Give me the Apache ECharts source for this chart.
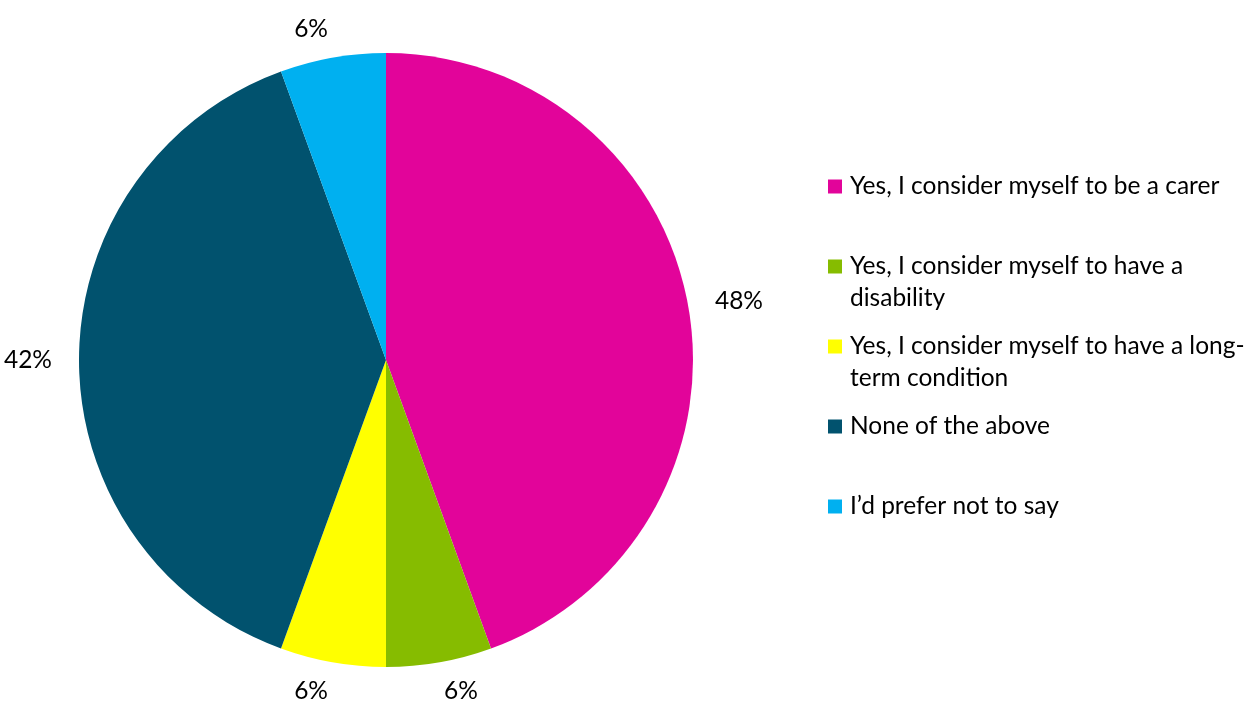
<!DOCTYPE html>
<html>
<head>
<meta charset="utf-8">
<script src="https://cdn.jsdelivr.net/npm/echarts@6/dist/echarts.min.js"></script>
<style>
  html, body { margin: 0; padding: 0; background: #ffffff; }
  #chart { width: 1251px; height: 707px; }
</style>
</head>
<body>
<div id="chart"></div>
<script>
// Survey answers: share of respondents per answer (multiple answers allowed)
const categories = [
  'Yes, I consider myself to be a carer',
  'Yes, I consider myself to have a disability',
  'Yes, I consider myself to have a long-term condition',
  'None of the above',
  'I\u2019d prefer not to say'
];
// Legend text, split onto the lines it wraps to
const legendLines = [
  ['Yes, I consider myself to be a carer', ''],
  ['Yes, I consider myself to have a', 'disability'],
  ['Yes, I consider myself to have a long-', 'term condition'],
  ['None of the above', ''],
  ['I\u2019d prefer not to say', '']
];
const percentValues = [48, 6, 6, 42, 6];
const colors = ['#e2049a', '#86bc00', '#ffff00', '#01526e', '#00b0f0'];

const FONT = 'Lato';
const FS = 24.5;
const CENTER = [386, 360];
const RADIUS = 307;
const GAP_X = 27;
const GAP_Y = 17;

const rich = {
  t: { fontFamily: FONT, fontSize: FS, color: '#000', lineHeight: 32 },
  gap: { width: 8, height: 32 },
  ind: { width: 22, height: 32 }
};
colors.forEach((c, i) => {
  rich['sq' + i] = { width: 14, height: 14, backgroundColor: c };
});

const total = percentValues.reduce((a, b) => a + b, 0);

// Place each value label just outside the rim, along the slice's middle direction
function placeLabel(params) {
  const i = params.dataIndex;
  let before = 0;
  for (let k = 0; k < i; k++) before += percentValues[k];
  const mid = (before + percentValues[i] / 2) / total * Math.PI * 2;
  const ux = Math.sin(mid);
  const uy = -Math.cos(mid);
  const hw = params.labelRect.width / 2;
  const hh = params.labelRect.height / 2;
  const side = Math.max(-1, Math.min(1, ux * 6));
  return {
    x: CENTER[0] + ux * (RADIUS + GAP_X) + hw * side,
    y: CENTER[1] + uy * (RADIUS + GAP_Y + hh),
    align: 'center',
    verticalAlign: 'middle'
  };
}

const chart = echarts.init(document.getElementById('chart'), null, { renderer: 'canvas' });
chart.setOption({
  backgroundColor: '#ffffff',
  animation: false,
  legend: {
    orient: 'vertical',
    left: 818,
    top: 169,
    icon: 'none',
    itemWidth: 0,
    itemHeight: 14,
    itemGap: 23,
    selectedMode: false,
    data: categories,
    formatter: function (name) {
      const i = categories.indexOf(name);
      const [l1, l2] = legendLines[i];
      return '{sq' + i + '|}{gap|}{t|' + l1 + '}\n{ind|}{t|' + (l2 || ' ') + '}';
    },
    textStyle: { rich: rich, fontFamily: FONT, fontSize: FS }
  },
  series: [{
    type: 'pie',
    center: CENTER,
    radius: [0, RADIUS],
    startAngle: 90,
    clockwise: true,
    avoidLabelOverlap: false,
    itemStyle: { borderWidth: 0 },
    emphasis: { disabled: true },
    label: {
      show: true,
      position: 'outside',
      formatter: '{c}%',
      fontFamily: FONT,
      fontSize: FS,
      color: '#000'
    },
    labelLine: { show: false, length: 24, length2: 0 },
    labelLayout: placeLabel,
    data: categories.map((name, i) => ({
      name: name,
      value: percentValues[i],
      itemStyle: { color: colors[i] }
    }))
  }]
});
</script>
</body>
</html>
